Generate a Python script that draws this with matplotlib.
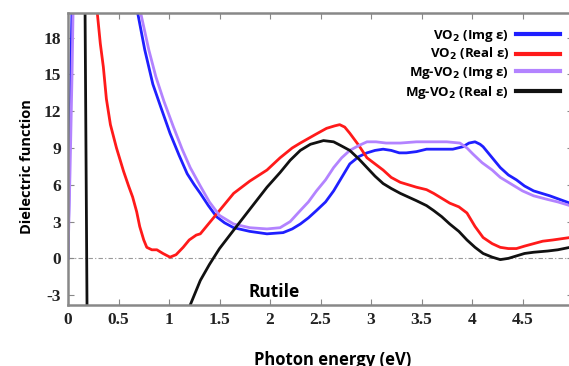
import numpy as np
import matplotlib.pyplot as plt

# VO2 imaginary part
vo2_img_x = [0, 0.015, 0.03, 0.05, 0.6, 0.69, 0.76, 0.84, 0.92, 1.01, 1.1, 1.18, 1.25, 1.31, 1.39, 1.47, 1.55, 1.64,
             1.8, 1.97, 2.13, 2.22, 2.30, 2.38, 2.46, 2.55, 2.63, 2.71, 2.79, 2.88, 2.96, 3.04, 3.12, 3.2, 3.28, 3.35,
             3.45, 3.55, 3.62, 3.72, 3.81, 3.91, 3.97, 4.03, 4.08, 4.11, 4.2, 4.28, 4.36, 4.44, 4.52, 4.61, 4.69,
             4.77, 4.87, 4.97]
vo2_img_y = [0, 8, 16, 25, 25, 20, 17, 14.2, 12.3, 10.2, 8.4, 6.9, 6.0, 5.3, 4.3, 3.4, 2.9, 2.5,
             2.2, 2.0, 2.1, 2.4, 2.8, 3.3, 3.9, 4.6, 5.5, 6.6, 7.7, 8.3, 8.6, 8.8, 8.9, 8.8, 8.6, 8.6,
             8.7, 8.9, 8.9, 8.9, 8.9, 9.1, 9.4, 9.5, 9.3, 9.1, 8.2, 7.4, 6.8, 6.4, 5.9, 5.5, 5.3,
             5.1, 4.8, 4.5]

# VO2 real part
vo2_real_x = [0.25, 0.29, 0.32, 0.35, 0.38, 0.42, 0.48, 0.55, 0.6, 0.64, 0.68, 0.71, 0.75, 0.78, 0.83, 0.88, 0.94,
              1.01, 1.07, 1.14, 1.2, 1.27, 1.31, 1.4, 1.5, 1.64, 1.8, 1.97, 2.1, 2.22, 2.30, 2.45, 2.56, 2.64, 2.69,
              2.74, 2.79, 2.88, 2.96, 3.04, 3.12, 3.2, 3.29, 3.37, 3.45, 3.55, 3.62, 3.7, 3.78, 3.87, 3.95, 4.03,
              4.11, 4.2, 4.28, 4.36, 4.44, 4.52, 4.61, 4.7, 4.8, 4.97]
vo2_real_y = [25, 20, 17.5, 15.6, 13.0, 10.9, 9.0, 7.1, 5.9, 5.0, 3.8, 2.6, 1.5, 0.9, 0.7, 0.7, 0.4,
              0.1, 0.3, 0.9, 1.5, 1.9, 2.0, 2.9, 3.9, 5.3, 6.3, 7.2, 8.2, 9.0, 9.4, 10.1, 10.6, 10.8, 10.9,
              10.7, 10.2, 9.2, 8.2, 7.7, 7.2, 6.6, 6.2, 6.0, 5.8, 5.6, 5.3, 4.9, 4.5, 4.2, 3.7, 2.6,
              1.7, 1.2, 0.9, 0.8, 0.8, 1.0, 1.2, 1.4, 1.5, 1.7]

# Mg-VO2 imaginary part
mg_img_x = [0, 0.02, 0.04, 0.06, 0.62, 0.72, 0.8, 0.87, 0.95, 1.04, 1.13, 1.21, 1.31, 1.4, 1.5, 1.64, 1.8, 1.97,
            2.1, 2.2, 2.3, 2.38, 2.46, 2.55, 2.63, 2.71, 2.79, 2.88, 2.96, 3.05, 3.15, 3.29, 3.45, 3.61, 3.75, 3.88,
            3.95, 4.01, 4.1, 4.2, 4.28, 4.4, 4.5, 4.61, 4.75, 4.85, 4.97]
mg_img_y = [0, 7, 15, 25, 25, 20, 17, 14.8, 12.8, 10.8, 8.9, 7.4, 5.9, 4.6, 3.5, 2.8, 2.5, 2.4,
            2.5, 3.0, 3.9, 4.6, 5.5, 6.4, 7.4, 8.2, 8.8, 9.2, 9.5, 9.5, 9.4, 9.4, 9.5, 9.5, 9.5, 9.4,
            9.0, 8.5, 7.8, 7.2, 6.6, 6.0, 5.5, 5.1, 4.8, 4.6, 4.3]

# Mg-VO2 real part
mg_real_x = [0.165, 0.19, 1.1, 1.21, 1.31, 1.4, 1.5, 1.64, 1.8, 1.97, 2.1, 2.2, 2.30, 2.4, 2.53, 2.63, 2.7, 2.79,
             2.88, 2.96, 3.04, 3.12, 3.2, 3.29, 3.37, 3.45, 3.55, 3.62, 3.7, 3.78, 3.87, 3.95, 4.03, 4.11, 4.2,
             4.28, 4.36, 4.44, 4.52, 4.61, 4.75, 4.85, 4.97]
mg_real_y = [25, -6, -6, -3.8, -1.8, -0.5, 0.8, 2.3, 4.0, 5.8, 7.0, 8.0, 8.8, 9.3, 9.6, 9.5, 9.2, 8.8,
             8.1, 7.4, 6.7, 6.1, 5.7, 5.3, 5.0, 4.7, 4.3, 3.9, 3.4, 2.8, 2.2, 1.5, 0.9, 0.4, 0.1,
             -0.1, 0.0, 0.2, 0.4, 0.5, 0.6, 0.7, 0.9]

labels = [r'VO$_\mathbf{2}$ (Img ε)', r'VO$_\mathbf{2}$ (Real ε)',
          r'Mg-VO$_\mathbf{2}$ (Img ε)', r'Mg-VO$_\mathbf{2}$ (Real ε)']
xticks = [0, 0.5, 1, 1.5, 2, 2.5, 3, 3.5, 4, 4.5, 5]
xticklabels = ['0', '0.5', '1', '1.5', '2', '2.5', '3', '3.5', '4', '4.5', '5']
yticks = [-3, 0, 3, 6, 9, 12, 15, 18]
yticklabels = ['-3', '0', '3', '6', '9', '12', '15', '18']

fig = plt.figure(figsize=(5.69, 3.66), dpi=100)
ax = fig.add_axes([68/569, 61/366, 505/569, 292/366])

ax.axhline(0, color='#999999', lw=0.8, ls=(0, (4, 2, 1, 2)), zorder=1)
ax.plot(vo2_img_x, vo2_img_y, color='#1f1fff', lw=2, label=labels[0])
ax.plot(vo2_real_x, vo2_real_y, color='#ff1a1a', lw=2, label=labels[1])
ax.plot(mg_img_x, mg_img_y, color='#b383ff', lw=2, label=labels[2])
ax.plot(mg_real_x, mg_real_y, color='#111111', lw=2, label=labels[3])

ax.set_xlim(0, 5)
ax.set_ylim(-3.8, 20)
ax.set_xticks(xticks)
ax.set_xticklabels(xticklabels)
ax.set_yticks(yticks)
ax.set_yticklabels(yticklabels)
ax.tick_params(direction='in', length=4, color='#888888', top=True, right=True, pad=5)
for lab in ax.get_xticklabels() + ax.get_yticklabels():
    lab.set_fontfamily('Liberation Serif')
    lab.set_fontweight('bold')
    lab.set_fontsize(12.5)
    lab.set_color('#222222')
for sp in ax.spines.values():
    sp.set_color('#888888')
    sp.set_linewidth(1.8)

ax.set_xlabel('Photon energy (eV)', fontfamily='Open Sans', fontweight='bold', fontsize=12)
ax.xaxis.set_label_coords((333 - 68) / 505, -(351 - 305) / 292)
ax.set_ylabel('Dielectric function', fontfamily='Open Sans', fontweight='bold', fontsize=10.5)
ax.yaxis.set_label_coords(-(68 - 34) / 505, (305 - 167) / 292)

ax.text(2.04, -2.73, 'Rutile', fontfamily='Open Sans', fontweight='bold', fontsize=12.5,
        ha='center', va='center')

leg = fig.legend(loc='upper right', bbox_to_anchor=(567/569, 1 - 21/366), frameon=False,
                 markerfirst=False, handlelength=3.4, handletextpad=0.5, labelspacing=0.2,
                 borderpad=0, prop={'family': 'Open Sans', 'weight': 'bold', 'size': 9.5})
for line in leg.get_lines():
    line.set_linewidth(3)

fig.savefig('out.png', dpi=100)
